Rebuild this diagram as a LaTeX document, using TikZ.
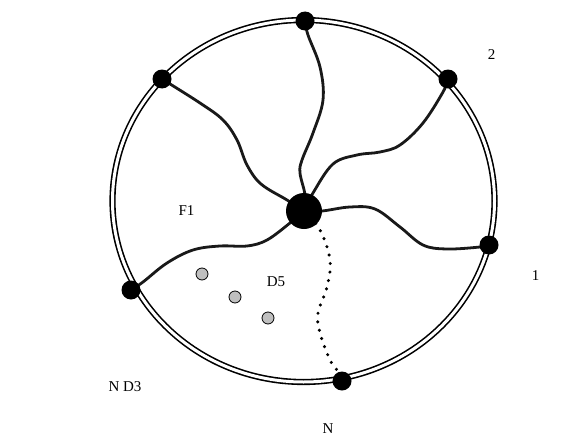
\documentclass[tikz,border=0pt]{standalone}
\usepackage{fontspec}
\setmainfont{Liberation Serif}
\usetikzlibrary{backgrounds}
\begin{document}
\begin{tikzpicture}[x=1pt,y=-1pt,
  ring/.style={draw=black,line width=1.6pt,double=white,double distance=3pt},
  hub/.style={circle,fill=black,inner sep=0pt,minimum size=36pt},
  port/.style={circle,fill=black,inner sep=0pt,minimum size=19pt},
  grain/.style={circle,draw=black,line width=0.8pt,fill=black!25,inner sep=0pt,minimum size=12pt},
  wire/.style={draw=black!90,line width=2.8pt,line cap=round},
  dotwire/.style={draw=black,line width=3.4pt,line cap=round,dash pattern=on 0pt off 8.6pt},
  lbl/.style={inner sep=0pt,font=\fontsize{15}{17}\selectfont}]
\useasboundingbox (0,0) rectangle (575,436);
% ring
\draw[ring] (303.5,201) ellipse [x radius=191, y radius=181];
% nodes
\node[hub] (c) at (304,211) {};
\node[port] (t) at (305,21) {};
\node[port] (ul) at (162,79) {};
\node[port] (ur) at (448,79) {};
\node[port] (r) at (489,245) {};
\node[port] (l) at (131,290) {};
\node[port] (b) at (342,381) {};
\node[grain] (g1) at (202,274) {};
\node[grain] (g2) at (235,297) {};
\node[grain] (g3) at (268,318) {};
% labels
\node[lbl] (lab2) at (491.5,54.5) {2};
\node[lbl] (lab1) at (535.5,276) {1};
\node[lbl] (labF) at (186.5,211) {F1};
\node[lbl] (labD5) at (276,281.5) {D5};
\node[lbl] (labND) at (125,387) {N D3};
\node[lbl] (labN) at (328,429) {N};
% connectors
\begin{pgfonlayer}{background}
\fill[white] (0,0) rectangle (575,436);
\draw[wire] plot[smooth,tension=0.6] coordinates {(c) (287,200) (261,184) (247,165) (237,140) (223,120) (200,103) (ul)};
\draw[wire] plot[smooth,tension=0.6] coordinates {(c) (305,195) (300,173) (302,160) (313,133) (323,100) (320,67) (308,35) (t)};
\draw[wire] plot[smooth,tension=0.6] coordinates {(c) (313,193) (333,164) (357,155) (380,152) (400,145) (423,123) (443,92) (ur)};
\draw[wire] plot[smooth,tension=0.6] coordinates {(c) (322,211) (350,207) (375,209) (400,227) (423,245) (447,249) (480,247) (r)};
\draw[wire] plot[smooth,tension=0.6] coordinates {(c) (290,223) (267,240) (247,246) (220,246) (193,250) (167,263) (143,282) (l)};
\draw[dotwire] plot[smooth,tension=0.6] coordinates {(c) (320,230) (330,260) (327,287) (318,313) (320,333) (330,360) (337,370) (b)};
\end{pgfonlayer}
\end{tikzpicture}
\end{document}
